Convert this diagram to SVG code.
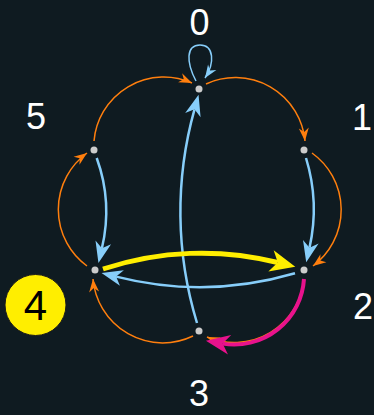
<svg xmlns="http://www.w3.org/2000/svg" width="374" height="415" viewBox="0 0 374 415">
<style>
.lbl{font-family:"Liberation Sans",Arial,sans-serif;font-size:36px;fill:#ffffff;text-anchor:middle}
.dot{fill:#cccccc}
.o{fill:none;stroke:#ff7f0e;stroke-width:1.5}
.b{fill:none;stroke:#87cefa;stroke-width:2.5}
.bs{fill:none;stroke:#87cefa;stroke-width:1.5}
.y{fill:none;stroke:#ffee00;stroke-width:5}
.p{fill:none;stroke:#e8128c;stroke-width:4}
</style>
<defs>
<marker id="ao" markerUnits="userSpaceOnUse" markerWidth="16" markerHeight="14" refX="13" refY="0" viewBox="-1 -7 16 14" orient="auto"><path d="M0,-5 L13,0 L0,5 L4,0 Z" fill="#ff7f0e"/></marker>
<marker id="abs" markerUnits="userSpaceOnUse" markerWidth="16" markerHeight="14" refX="13" refY="0" viewBox="-1 -7 16 14" orient="auto"><path d="M0,-5 L13,0 L0,5 L4,0 Z" fill="#87cefa"/></marker>
<marker id="ab" markerUnits="userSpaceOnUse" markerWidth="24" markerHeight="20" refX="6" refY="0" viewBox="-1 -10 24 20" orient="auto"><path d="M0,-8 L21,0 L0,8 L6,0 Z" fill="#87cefa"/></marker>
<marker id="ay" markerUnits="userSpaceOnUse" markerWidth="28" markerHeight="26" refX="7" refY="0" viewBox="-1 -13 28 26" orient="auto"><path d="M0,-11 L25,0 L0,11 L7,0 Z" fill="#ffee00"/></marker>
<marker id="ap" markerUnits="userSpaceOnUse" markerWidth="28" markerHeight="24" refX="7" refY="0" viewBox="-1 -12 28 24" orient="auto"><path d="M0,-10 L24,0 L0,10 L7,0 Z" fill="#e8128c"/></marker>
</defs>
<rect width="374" height="415" fill="#0f1b21"/>
<g id="connectors">
<path class="o" d="M94,141 A70,70 0 0 1 192,83" marker-end="url(#ao)"/>
<path class="o" d="M206,84 A70,70 0 0 1 305,141" marker-end="url(#ao)"/>
<path class="o" d="M312,153 A70,70 0 0 1 313,266" marker-end="url(#ao)"/>
<path class="o" d="M87,266 A70,70 0 0 1 87,153" marker-end="url(#ao)"/>
<path class="o" d="M193,336 A70,70 0 0 1 93,279" marker-end="url(#ao)"/>
<path class="o" d="M304,279 A70,70 0 0 1 207,337" marker-end="url(#ao)"/>
<path class="bs" d="M196,81 C186,62 186,45 200,45 C214,45 215,63 205,78" marker-end="url(#abs)"/>
<path class="b" d="M197,323 A380,380 0 0 1 194.5,109.3" marker-end="url(#ab)"/>
<path class="b" d="M96.7,158 A158,158 0 0 1 101.9,248.3" marker-end="url(#ab)"/>
<path class="b" d="M306,158 A175,175 0 0 1 309.5,247.7" marker-end="url(#ab)"/>
<path class="b" d="M295,273.3 A340,340 0 0 1 116.1,276.6" marker-end="url(#ab)"/>
<path class="y" d="M103,269 A315,315 0 0 1 277.8,262.5" marker-end="url(#ay)"/>
<path class="p" d="M304,279 A70,70 0 0 1 222.7,343.6" marker-end="url(#ap)"/>
</g>
<g id="n0"><circle class="dot" cx="199" cy="89" r="3.5"/><text class="lbl" x="199.5" y="35">0</text></g>
<g id="n1"><circle class="dot" cx="304" cy="150" r="3.5"/><text class="lbl" x="362" y="130">1</text></g>
<g id="n2"><circle class="dot" cx="304" cy="270" r="3.5"/><text class="lbl" x="363" y="319">2</text></g>
<g id="n3"><circle class="dot" cx="199" cy="331" r="3.5"/><text class="lbl" x="199" y="406">3</text></g>
<g id="n4"><circle class="dot" cx="95" cy="270" r="3.5"/><circle cx="35.5" cy="305" r="30.5" fill="#ffee00" stroke="#1a1a1a" stroke-width="1"/><text class="lbl" x="35.5" y="320" style="fill:#000000;font-size:42px">4</text></g>
<g id="n5"><circle class="dot" cx="94" cy="150" r="3.5"/><text class="lbl" x="36" y="129">5</text></g>
</svg>
